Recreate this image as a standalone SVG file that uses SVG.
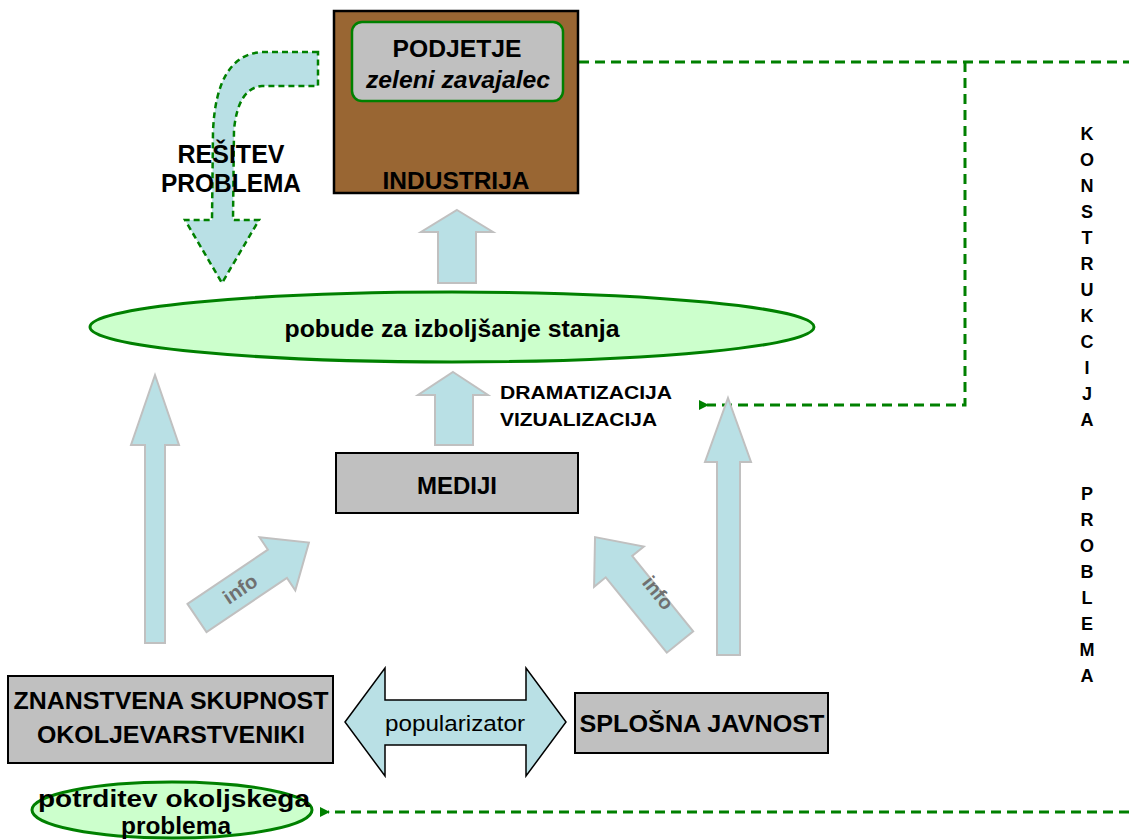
<svg xmlns="http://www.w3.org/2000/svg" width="1129" height="840" viewBox="0 0 1129 840">
<defs>
<style>
.t{font-family:"Liberation Sans",Arial,sans-serif;font-weight:bold;fill:#000;}
.blue{fill:#b9e0e5;stroke:#c0c0c0;stroke-width:2;}
.box{fill:#c0c0c0;stroke:#000;stroke-width:2;}
.dash{fill:none;stroke:#008000;stroke-width:3;stroke-dasharray:10 6;}
.ell{fill:#ccffcc;stroke:#008000;stroke-width:3;}
.info{font-family:"Liberation Sans",Arial,sans-serif;font-weight:bold;fill:#707070;font-size:20px;}
</style>
<marker id="ah" markerWidth="10" markerHeight="10" refX="2" refY="5" orient="auto" markerUnits="userSpaceOnUse">
<path d="M10,0 L0,5 L10,10 Z" fill="#008000"/>
</marker>
</defs>
<rect width="1129" height="840" fill="#fff"/>

<g id="connectors">
<path class="dash" d="M563,62 H1129"/>
<path class="dash" d="M965,62 V405 H707" marker-end="url(#ah)"/>
<path class="dash" d="M1129,812 H328" marker-end="url(#ah)"/>
<path id="resitev-arrow" d="M318,52 L262,52 Q216,55 213,132 L212,220 L185,220 L222,283 L259,220 L233,220 L234,130 Q238,88 262,86 L318,86 Z" fill="#b9e0e5" stroke="#008000" stroke-width="2.5" stroke-dasharray="6 4"/>
<polygon class="blue" points="457,210 493,232 476,232 476,283 438,283 438,232 421,232"/>
<polygon class="blue" points="453,372 488,395 473,395 473,445 435,445 435,395 418,395"/>
<polygon class="blue" points="155,375 179,445 165,445 165,643 145,643 145,445 131,445"/>
<polygon class="blue" points="728,398 751,462 740,462 740,655 717,655 717,462 705,462"/>
<g transform="translate(197,618) rotate(-34)">
<polygon class="blue" points="0,-17 97,-17 97,-32 135,0 97,32 97,17 0,17"/>
<text class="info" x="52" y="7" text-anchor="middle">info</text>
</g>
<g transform="translate(680,642) rotate(-129)">
<polygon class="blue" points="0,-17 97,-17 97,-32 135,0 97,32 97,17 0,17"/>
<text class="info" x="52" y="-7" text-anchor="middle" transform="rotate(180 52 0)">info</text>
</g>
</g>

<g id="resitev-label">
<text class="t" x="231" y="163" font-size="25" text-anchor="middle" textLength="107" lengthAdjust="spacingAndGlyphs">REŠITEV</text>
<text class="t" x="231" y="192" font-size="25" text-anchor="middle" textLength="140" lengthAdjust="spacingAndGlyphs">PROBLEMA</text>
</g>

<g id="industrija">
<rect x="334" y="11" width="244" height="182" fill="#996633" stroke="#000" stroke-width="2.5"/>
<text class="t" x="456" y="189" font-size="24" text-anchor="middle" textLength="147" lengthAdjust="spacingAndGlyphs">INDUSTRIJA</text>
</g>
<g id="podjetje">
<rect x="352" y="22" width="211" height="79" rx="10" fill="#c0c0c0" stroke="#008000" stroke-width="2.5"/>
<text class="t" x="457" y="57" font-size="24" text-anchor="middle" textLength="129" lengthAdjust="spacingAndGlyphs">PODJETJE</text>
<text class="t" x="458" y="88" font-size="24" font-style="italic" font-weight="normal" text-anchor="middle" textLength="184" lengthAdjust="spacingAndGlyphs">zeleni zavajalec</text>
</g>

<g id="pobude">
<ellipse class="ell" cx="452" cy="327" rx="362" ry="35"/>
<text class="t" x="452" y="337" font-size="24" text-anchor="middle" textLength="335" lengthAdjust="spacingAndGlyphs">pobude za izboljšanje stanja</text>
</g>

<g id="dramatizacija">
<text class="t" x="500" y="399" font-size="19" textLength="172" lengthAdjust="spacingAndGlyphs">DRAMATIZACIJA</text>
<text class="t" x="500" y="426" font-size="19" textLength="157" lengthAdjust="spacingAndGlyphs">VIZUALIZACIJA</text>
</g>

<g id="mediji">
<rect class="box" x="336" y="453" width="242" height="60"/>
<text class="t" x="457" y="494" font-size="23" text-anchor="middle" textLength="80" lengthAdjust="spacingAndGlyphs">MEDIJI</text>
</g>

<g id="znanstvena">
<rect class="box" x="8" y="676" width="325" height="87"/>
<text class="t" x="171" y="709" font-size="24" text-anchor="middle" textLength="315" lengthAdjust="spacingAndGlyphs">ZNANSTVENA SKUPNOST</text>
<text class="t" x="171" y="743" font-size="24" text-anchor="middle" textLength="268" lengthAdjust="spacingAndGlyphs">OKOLJEVARSTVENIKI</text>
</g>

<g id="popularizator">
<polygon points="345,722 385,668 385,700 526,700 526,668 566,722 526,776 526,745 385,745 385,776" fill="#b9e0e5" stroke="#000" stroke-width="1.5"/>
<text x="455" y="731" font-family="Liberation Sans, Arial, sans-serif" font-size="22" text-anchor="middle" textLength="140" lengthAdjust="spacingAndGlyphs">popularizator</text>
</g>

<g id="splosna">
<rect class="box" x="575" y="693" width="253" height="60"/>
<text class="t" x="702" y="732" font-size="24" text-anchor="middle" textLength="245" lengthAdjust="spacingAndGlyphs">SPLOŠNA JAVNOST</text>
</g>

<g id="potrditev">
<ellipse class="ell" cx="172" cy="810" rx="140" ry="28"/>
<text class="t" x="174" y="807" font-size="23" text-anchor="middle" textLength="272" lengthAdjust="spacingAndGlyphs">potrditev okoljskega</text>
<text class="t" x="176" y="834" font-size="23" text-anchor="middle" textLength="110" lengthAdjust="spacingAndGlyphs">problema</text>
</g>

<g id="konstrukcija" class="t" font-size="18" text-anchor="middle">
<text x="1087" y="140">K</text>
<text x="1087" y="166">O</text>
<text x="1087" y="192">N</text>
<text x="1087" y="218">S</text>
<text x="1087" y="244">T</text>
<text x="1087" y="270">R</text>
<text x="1087" y="296">U</text>
<text x="1087" y="322">K</text>
<text x="1087" y="348">C</text>
<text x="1087" y="374">I</text>
<text x="1087" y="400">J</text>
<text x="1087" y="426">A</text>
<text x="1087" y="500">P</text>
<text x="1087" y="526">R</text>
<text x="1087" y="552">O</text>
<text x="1087" y="578">B</text>
<text x="1087" y="604">L</text>
<text x="1087" y="630">E</text>
<text x="1087" y="656">M</text>
<text x="1087" y="682">A</text>
</g>
</svg>
